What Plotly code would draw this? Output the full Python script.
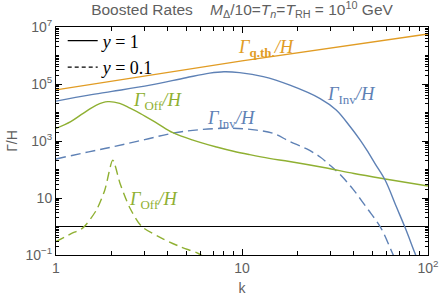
import plotly.graph_objects as go
import math

# ---- data ----
k_qth = [1, 10, 100]
rate_qth = [6.2e4, 6.5e5, 5.7e6]

k_inv1 = [1, 1.5, 2, 3.2, 5, 6.7, 8, 9.7, 13, 18.1, 26.3, 32.1, 38.1, 43.1, 46.9, 52, 58.8, 67.6, 75.2, 85.1, 92]
log_inv1 = [4.40, 4.61, 4.74, 4.96, 5.22, 5.38, 5.43, 5.40, 5.26, 4.96, 4.49, 4.09, 3.51, 3.04, 2.68, 2.2, 1.63, 0.69, -0.03, -0.94, -1.5]

k_inv01 = [1, 1.5, 2.1, 3, 4.3, 6, 8.9, 12, 14.7, 18.1, 22.3, 26.3, 29.6, 33.5, 39.4, 46.9, 55.6, 63.8, 69]
log_inv01 = [2.37, 2.62, 2.82, 3.05, 3.28, 3.40, 3.45, 3.38, 3.27, 2.98, 2.72, 2.44, 2.16, 1.84, 1.32, 0.65, -0.03, -0.88, -1.39]

k_off1 = [1, 1.2, 1.4, 1.65, 1.9, 2.2, 2.5, 2.83, 3.5, 4.25, 5.5, 7.3, 9, 11, 14, 18, 28, 40, 60, 100]
log_off1 = [3.44, 3.68, 3.97, 4.26, 4.38, 4.32, 4.15, 3.97, 3.62, 3.29, 3.02, 2.79, 2.64, 2.52, 2.39, 2.28, 2.06, 1.86, 1.66, 1.42]

k_off01 = [1, 1.2, 1.4, 1.65, 1.83, 2.02, 2.21, 2.5, 2.89, 3.78, 4.7, 5.7, 6.2]
log_off01 = [-0.53, -0.26, -0.04, 0.58, 1.28, 2.33, 1.51, 0.64, 0.0, -0.44, -0.72, -0.92, -1.05]

k_unit = [1, 100]
rate_unit = [1, 1]

y_tick_vals = [1e-1, 10, 1e3, 1e5, 1e7]
y_tick_text = ["10<sup>\u22121</sup>", "10", "10<sup>3</sup>", "10<sup>5</sup>", "10<sup>7</sup>"]
x_tick_vals = [1, 10, 100]
x_tick_text = ["1", "10", "10<sup>2</sup>"]

ORANGE = "#E19C24"
BLUE = "#5E81B5"
GREEN = "#8FB032"
GREY = "#5f5f5f"

def pw(v):
    return [10 ** x for x in v]

fig = go.Figure()
lw = 1.4
fig.add_trace(go.Scatter(x=k_unit, y=rate_unit, mode="lines", line=dict(color="black", width=1.1), showlegend=False))
fig.add_trace(go.Scatter(x=k_off01, y=pw(log_off01), mode="lines",
                         line=dict(color=GREEN, width=lw, dash="9px,5px", shape="spline", smoothing=0.7), showlegend=False))
fig.add_trace(go.Scatter(x=k_inv01, y=pw(log_inv01), mode="lines",
                         line=dict(color=BLUE, width=lw, dash="10px,5px", shape="spline", smoothing=1.0), showlegend=False))
fig.add_trace(go.Scatter(x=k_off1, y=pw(log_off1), mode="lines",
                         line=dict(color=GREEN, width=lw, shape="spline", smoothing=1.0), showlegend=False))
fig.add_trace(go.Scatter(x=k_inv1, y=pw(log_inv1), mode="lines",
                         line=dict(color=BLUE, width=lw, shape="spline", smoothing=1.0), showlegend=False))
fig.add_trace(go.Scatter(x=k_qth, y=rate_qth, mode="lines", line=dict(color=ORANGE, width=lw), showlegend=False))

# legend entries
fig.add_trace(go.Scatter(x=[None], y=[None], mode="lines", line=dict(color="black", width=1.2),
                         name="<i>y</i> = 1"))
fig.add_trace(go.Scatter(x=[None], y=[None], mode="lines", line=dict(color="black", width=1.2, dash="4px,3px"),
                         name="<i>y</i> = 0.1"))

serif = "Liberation Serif"
labels = [
    (13.6, 10 ** 6.26, "<i>Γ</i><sub><b>q.th.</b></sub><i>/H</i>", ORANGE),
    (38.8, 10 ** 4.61, "<i>Γ</i><sub>Inv</sub><i>/H</i>", BLUE),
    (3.51, 10 ** 4.37, "<i>Γ</i><sub>Off</sub><i>/H</i>", GREEN),
    (8.73, 10 ** 3.77, "<i>Γ</i><sub>Inv</sub><i>/H</i>", BLUE),
    (3.36, 10 ** 0.93, "<i>Γ</i><sub>Off</sub><i>/H</i>", GREEN),
]
for xk, yv, txt, col in labels:
    fig.add_annotation(x=math.log10(xk), y=math.log10(yv), text=txt, showarrow=False,
                       font=dict(family=serif, size=18.5, color=col), xref="x", yref="y")

minor_x = [m * d for d in (1, 10) for m in range(2, 10)]
minor_y = [m * 10 ** d for d in range(-1, 7) for m in range(1, 10) if not (m == 1 and d % 2 == 1)]

fig.update_layout(
    width=441, height=303,
    margin=dict(l=56, r=13, t=27, b=48, autoexpand=False),
    paper_bgcolor="white", plot_bgcolor="white",
    title=dict(text="Boosted Rates    <i>M</i><sub>Δ</sub>/10=<i>T<sub>n</sub></i>=<i>T</i><sub>RH</sub> = 10<sup>10</sup> GeV",
               x=0.5, xref="paper", y=0.968, yanchor="middle",
               font=dict(family="Liberation Sans", size=15.5, color=GREY)),
    showlegend=True,
    legend=dict(x=0.018, y=1.02, xanchor="left", yanchor="top", bgcolor="rgba(0,0,0,0)",
                font=dict(family=serif, size=18, color="black"), itemwidth=30, tracegroupgap=0),
    font=dict(family="Liberation Sans", color=GREY),
)
fig.update_xaxes(type="log", range=[0, 2], showgrid=False, zeroline=False, automargin=False,
                 showline=True, linecolor="black", linewidth=1, mirror="allticks",
                 ticks="inside", ticklen=6, tickcolor="black",
                 tickvals=x_tick_vals, ticktext=x_tick_text,
                 tickfont=dict(family="Liberation Sans", size=14, color=GREY),
                 minor=dict(tickmode="array", tickvals=minor_x, ticks="inside", ticklen=4, tickcolor="black", showgrid=False),
                 title=dict(text="k", font=dict(family="Liberation Sans", size=14, color=GREY), standoff=8))
fig.update_yaxes(type="log", range=[-1, 7], showgrid=False, zeroline=False, automargin=False,
                 showline=True, linecolor="black", linewidth=1, mirror="allticks",
                 ticks="inside", ticklen=6, tickcolor="black",
                 tickvals=y_tick_vals, ticktext=y_tick_text,
                 tickfont=dict(family="Liberation Sans", size=14, color=GREY),
                 minor=dict(tickmode="array", tickvals=minor_y, ticks="inside", ticklen=3, tickcolor="black", showgrid=False),
                 title=dict(text="Γ/H", font=dict(family="Liberation Sans", size=14, color=GREY), standoff=4))

fig.write_html("out.html", config={"displayModeBar": False},
               post_script="document.body.style.margin='0';")
